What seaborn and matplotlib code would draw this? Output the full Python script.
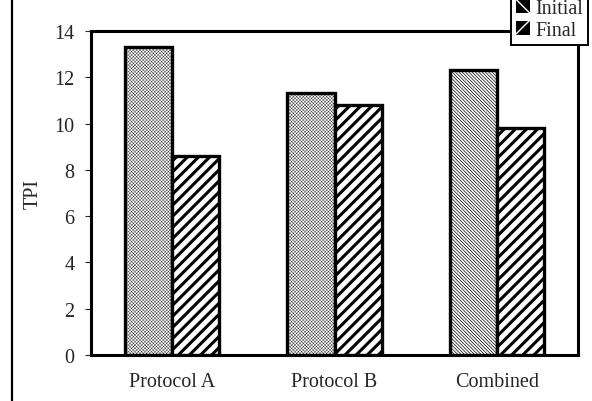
import matplotlib
matplotlib.use("Agg")
import matplotlib.pyplot as plt
from matplotlib.patches import Patch
from matplotlib.lines import Line2D
import seaborn as sns
import pandas as pd

# TPI per protocol, before and after
groups = ["Protocol A", "Protocol B", "Combined"]
initial = [13.3, 11.3, 12.3]
final = [8.6, 10.8, 9.8]
phases = ["Initial", "Final"]
y_ticks = [0, 2, 4, 6, 8, 10, 12, 14]

df = pd.DataFrame({
    "group": groups * 2,
    "TPI": initial + final,
    "phase": [phases[0]] * len(groups) + [phases[1]] * len(groups),
})

sns.set_style("white")
plt.rcParams["font.family"] = ["Liberation Serif", "DejaVu Serif"]
plt.rcParams["hatch.color"] = "black"

FS = 14.5

fig = plt.figure(figsize=(5.92, 4.02), dpi=100)
ax = fig.add_axes([0.1537, 0.1144, 0.8227, 0.806])

sns.barplot(data=df, x="group", y="TPI", hue="phase", order=groups,
            hue_order=phases, palette=["white", "white"], width=0.58,
            edgecolor="black", linewidth=2.4, saturation=1, ax=ax,
            legend=False)

# Initial bars: fine stipple / fine diagonal texture
fine_hatch = [("xxxxxxxxxx", 0.25), ("xxxxxxxxxx", 0.25),
              ("\\\\\\\\\\\\\\\\\\\\", 0.5)]
for bar, (h, lw) in zip(ax.containers[0], fine_hatch):
    bar.set_hatch(h)
    if hasattr(bar, "set_hatch_linewidth"):
        bar.set_hatch_linewidth(lw)
# Final bars: bold forward diagonals
for bar in ax.containers[1]:
    bar.set_hatch("///")
    if hasattr(bar, "set_hatch_linewidth"):
        bar.set_hatch_linewidth(2.2)

ax.set_xlim(-0.5, 2.5)
ax.set_ylim(0, 14)
ax.set_yticks(y_ticks)
ax.tick_params(axis="y", labelsize=FS, length=4, width=0.8, direction="out",
               left=True, pad=8)
ax.tick_params(axis="x", labelsize=FS, length=0, pad=12)
ax.set_xlabel("")
ax.set_ylabel("TPI", fontsize=FS, labelpad=8)
for s in ax.spines.values():
    s.set_visible(True)
    s.set_linewidth(2.2)
    s.set_color("black")

# Vertical rule along the left edge of the page
fig.add_artist(Line2D([12 / 592, 12 / 592], [0, 1], transform=fig.transFigure,
                      color="black", linewidth=1.6))

handles = [
    Patch(facecolor="black", edgecolor="white", linewidth=0, hatch="\\\\"),
    Patch(facecolor="black", edgecolor="white", linewidth=0, hatch="//"),
]
leg = fig.legend(handles, phases, loc="lower left",
                 bbox_to_anchor=(511 / 592, 1 - 46 / 402),
                 bbox_transform=fig.transFigure, fontsize=FS,
                 handlelength=0.7, handleheight=0.7, handletextpad=0.25,
                 borderpad=0.25, labelspacing=0.15, frameon=True,
                 framealpha=1, fancybox=False, borderaxespad=0)
leg.get_frame().set_edgecolor("black")
leg.get_frame().set_facecolor("white")
leg.get_frame().set_linewidth(1.4)
leg.set_zorder(10)

fig.savefig("out.png", dpi=100, facecolor="white")
